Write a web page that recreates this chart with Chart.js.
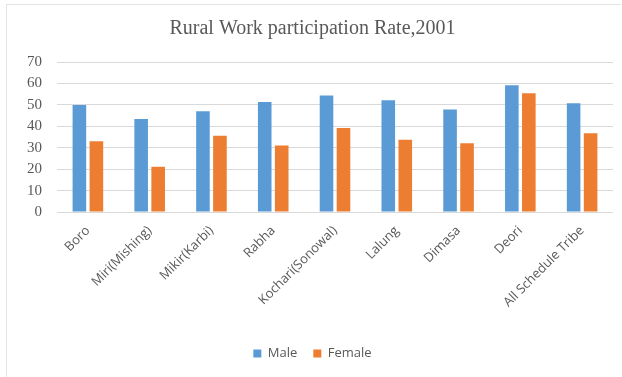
<!DOCTYPE html>
<html>
<head>
<meta charset="utf-8">
<script src="https://cdn.jsdelivr.net/npm/chart.js@4.4.1/dist/chart.umd.min.js"></script>
<style>
  html, body { margin: 0; padding: 0; background: #fff; }
  #wrap {
    position: absolute; left: 6px; top: 4px;
    width: 614px; height: 372px;
    border: 1px solid #e3e3e3; border-right: none; border-bottom: none;
  }
  canvas { display: block; }
</style>
</head>
<body>
<div id="wrap"><canvas id="myChart" width="614" height="372"></canvas></div>
<script>
const tribes = ['Boro', 'Miri(Mishing)', 'Mikir(Karbi)', 'Rabha', 'Kochari(Sonowal)',
  'Lalung', 'Dimasa', 'Deori', 'All Schedule Tribe'];
const male = [49.9, 43.4, 47.0, 51.3, 54.4, 52.1, 47.8, 59.2, 50.8];
const female = [33.0, 21.1, 35.6, 31.0, 39.2, 33.7, 32.1, 55.4, 36.8];
const yTicks = [0, 10, 20, 30, 40, 50, 60, 70];

renderChart();

function renderChart() {
  const ctx = document.getElementById('myChart');
  new Chart(ctx, {
    type: 'bar',
    data: {
      labels: tribes,
      datasets: [
        { label: 'Male', data: male, backgroundColor: '#5B9BD5' },
        { label: 'Female', data: female, backgroundColor: '#ED7D31' }
      ]
    },
    options: {
      responsive: false,
      animation: false,
      layout: { padding: { left: 5, right: 8, top: 6, bottom: 7 } },
      datasets: { bar: { barPercentage: 0.8, categoryPercentage: 0.55 } },
      plugins: {
        title: {
          display: true,
          text: 'Rural Work participation Rate,2001',
          color: '#595959',
          font: { family: 'Liberation Serif', size: 20, weight: 'normal' },
          padding: { top: 6, bottom: 21 }
        },
        legend: {
          position: 'bottom',
          labels: {
            color: '#595959',
            boxWidth: 8, boxHeight: 8,
            padding: 16,
            font: { family: 'Open Sans', size: 13 }
          }
        },
        tooltip: { enabled: false }
      },
      scales: {
        x: {
          grid: { display: false },
          border: { display: false },
          ticks: {
            color: '#595959',
            maxRotation: 45, minRotation: 45,
            font: { family: 'Open Sans', size: 13 }
          },
          afterFit: function (scale) { scale.height = 119; }
        },
        y: {
          min: 0, max: 70,
          afterBuildTicks: function (scale) { scale.ticks = yTicks.map(v => ({ value: v })); },
          grid: { color: '#d9d9d9', drawTicks: false },
          border: { display: false },
          ticks: {
            color: '#595959',
            padding: 15,
            font: { family: 'Liberation Serif', size: 15 }
          }
        }
      }
    }
  });
}
</script>
</body>
</html>
